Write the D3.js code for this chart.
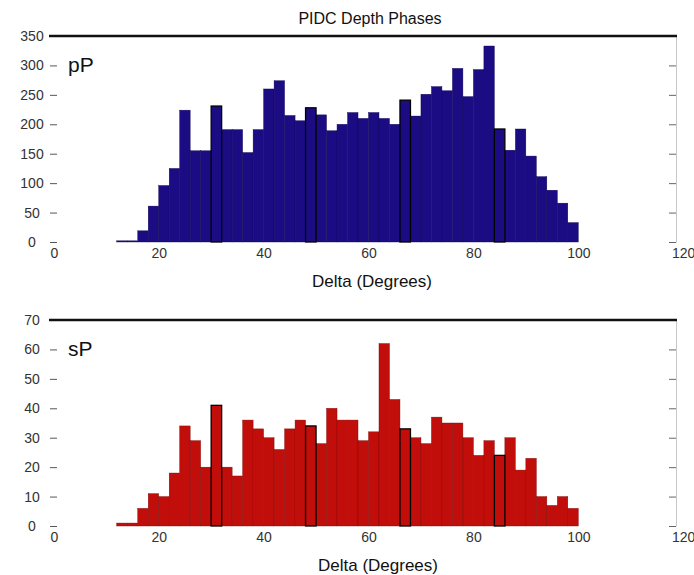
<!DOCTYPE html>
<html>
<head>
<meta charset="utf-8">
<script src="https://cdn.jsdelivr.net/npm/d3@7"></script>
<style>
  body { margin: 0; background: #fff; }
  svg { display: block; font-family: "Liberation Sans", Arial, sans-serif; }
</style>
</head>
<body>
<div class="js-chart"></div>
<script>
'use strict';

// histogram bins (left edge, degrees), 2 degrees wide
const BIN_STARTS = [12, 14, 16, 18, 20, 22, 24, 26, 28, 30, 32, 34, 36, 38, 40, 42, 44, 46, 48, 50, 52, 54,
                    56, 58, 60, 62, 64, 66, 68, 70, 72, 74, 76, 78, 80, 82, 84, 86, 88, 90, 92, 94, 96, 98];
const BIN_WIDTH = 2;

const PP_COUNTS = [2, 2, 19, 61, 96, 125, 224, 155, 155, 231, 191, 191, 152, 191, 260, 274, 215, 206, 228, 216, 189, 200,
                   220, 210, 220, 210, 200, 241, 214, 251, 264, 257, 295, 247, 293, 333, 192, 156, 192, 146, 111, 88, 66, 33];
const SP_COUNTS = [1, 1, 6, 11, 10, 18, 34, 29, 20, 41, 20, 17, 36, 33, 30, 26, 33, 36, 34, 28, 40, 36,
                   36, 29, 32, 62, 43, 33, 30, 28, 37, 35, 35, 30, 24, 29, 24, 30, 19, 23, 10, 7, 10, 6];

const X_TICKS = [0, 20, 40, 60, 80, 100, 120];
const PP_TICKS = [0, 50, 100, 150, 200, 250, 300, 350];
const SP_TICKS = [0, 10, 20, 30, 40, 50, 60, 70];

// bins that show a black edge in the original picture
const OUTLINED_BINS = [30, 48, 66, 84];

const svgWidth = 694;
const svgHeight = 575;
const frameLeft = 49;
const frameRight = 676;

const svg = d3.select('.js-chart')
	.append('svg')
	.attr('width', svgWidth)
	.attr('height', svgHeight);

// shared x scale, runs a little past the right frame line like the original
const xScale = d3.scaleLinear()
	.domain([0, 120])
	.range([53.8, 683.2]);

svg.append('text')
	.attr('x', 370)
	.attr('y', 18)
	.attr('dy', '0.35em')
	.attr('text-anchor', 'middle')
	.attr('font-size', 16)
	.attr('fill', '#111')
	.text('PIDC Depth Phases');

function drawPanel(panel) {

	const yScale = d3.scaleLinear()
		.domain([0, panel.yMax])
		.range([panel.bottom, panel.top]);

	const g = svg.append('g');

	const bins = BIN_STARTS.map(function(b, i) {
		return { start: b, count: panel.counts[i], outlined: OUTLINED_BINS.indexOf(b) >= 0 };
	});

	// plain bars first, outlined ones on top
	const sorted = bins.filter(d => !d.outlined).concat(bins.filter(d => d.outlined));

	g.selectAll('rect')
		.data(sorted)
		.enter()
		.append('rect')
		.attr('x', d => xScale(d.start))
		.attr('y', d => yScale(d.count))
		.attr('width', d => xScale(d.start + BIN_WIDTH) - xScale(d.start))
		.attr('height', d => yScale(0) - yScale(d.count))
		.attr('fill', panel.fill)
		.attr('stroke', d => d.outlined ? '#000' : panel.edge)
		.attr('stroke-width', d => d.outlined ? 1.3 : 0.4);

	// left axis: short inward ticks, labels centred further left
	const left = g.append('g')
		.attr('transform', `translate(${frameLeft + 1},0)`)
		.call(d3.axisLeft(yScale).tickValues(panel.ticks).tickSize(-7).tickPadding(18));
	left.select('.domain').remove();
	left.selectAll('line').attr('stroke', '#555');
	left.selectAll('text')
		.attr('text-anchor', 'middle')
		.attr('font-size', 14)
		.attr('fill', '#333');

	// right frame line with inward ticks
	const right = g.append('g')
		.attr('transform', `translate(${frameRight},0)`)
		.call(d3.axisRight(yScale).tickValues(panel.ticks).tickSize(-7).tickSizeOuter(0).tickFormat(''));
	right.select('.domain').attr('stroke', '#c8c8c8');
	right.selectAll('line').attr('stroke', '#666');

	// bottom tick labels only
	const bottom = g.append('g')
		.attr('transform', `translate(0,${panel.bottom})`)
		.call(d3.axisBottom(xScale).tickValues(X_TICKS).tickSize(0).tickPadding(6));
	bottom.select('.domain').remove();
	bottom.selectAll('text')
		.attr('font-size', 14)
		.attr('fill', '#333');

	// heavy top frame line
	g.append('line')
		.attr('x1', frameLeft)
		.attr('x2', frameRight + 1)
		.attr('y1', panel.top)
		.attr('y2', panel.top)
		.attr('stroke', '#111')
		.attr('stroke-width', 2.5);

	g.append('text')
		.attr('x', panel.labelX)
		.attr('y', panel.bottom + 39)
		.attr('dy', '0.35em')
		.attr('text-anchor', 'middle')
		.attr('font-size', 17)
		.attr('fill', '#111')
		.text('Delta (Degrees)');

	g.append('text')
		.attr('x', 68)
		.attr('y', panel.top + 36)
		.attr('font-size', 21)
		.attr('fill', '#111')
		.text(panel.phase);
}

drawPanel({
	top: 36, bottom: 242, yMax: 350, ticks: PP_TICKS, counts: PP_COUNTS,
	fill: '#1c0c84', edge: '#0e0650', phase: 'pP', labelX: 372
});

drawPanel({
	top: 320, bottom: 526, yMax: 70, ticks: SP_TICKS, counts: SP_COUNTS,
	fill: '#c20e0a', edge: '#7a0806', phase: 'sP', labelX: 378
});
</script>
</body>
</html>
